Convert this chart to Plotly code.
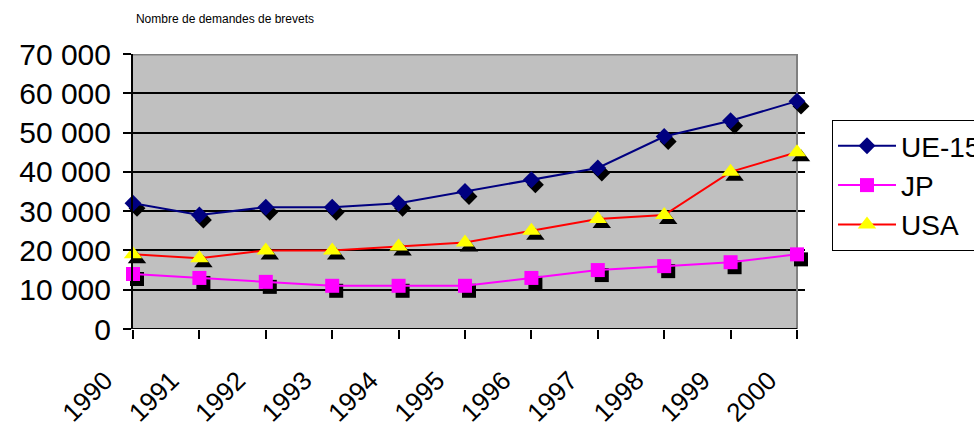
import plotly.graph_objects as go

years = [1990, 1991, 1992, 1993, 1994, 1995, 1996, 1997, 1998, 1999, 2000]
ue15 = [32000, 29000, 31000, 31000, 32000, 35000, 38000, 41000, 49000, 53000, 58000]
jp = [14000, 13000, 12000, 11000, 11000, 11000, 13000, 15000, 16000, 17000, 19000]
usa = [19000, 18000, 20000, 20000, 21000, 22000, 25000, 28000, 29000, 40000, 45000]
tick_years = [str(y) for y in years]

FONT = "Liberation Sans, Arial, sans-serif"
W, H = 974, 428
SX, SY = 4, 5      # shadow offset (px)
E = 8              # extra px of x-range beyond 2000 so shadows stay visible
L, T, B = 133, 54, 99
base_w = 664       # px from 1990 to 2000
R = W - L - base_w - E
ph = H - T - B
pw = base_w + E
u = (years[-1] - years[0]) / base_w   # data units per px (x)
v = 70000 / ph                        # data units per px (y)
xr = [years[0], years[-1] + E * u]
yr = [0, 70000]

series = [
    ("UE-15", ue15, "#000080", "diamond", 13, "#000080"),
    ("JP", jp, "#FF00FF", "square", 14, "#FF00FF"),
    ("USA", usa, "#FF0000", "triangle-up", 16, "#FFFF00"),
]

fig = go.Figure()
# shadows (overlay 1)
for name, vals, lc, sym, sz, mc in series:
    fig.add_trace(go.Scatter(x=years, y=vals, mode="markers", xaxis="x2", yaxis="y2",
                             marker=dict(symbol=sym, size=sz, color="black", line=dict(width=0)),
                             showlegend=False, hoverinfo="skip", cliponaxis=False))
# main series (overlay 2, on top)
for name, vals, lc, sym, sz, mc in series:
    fig.add_trace(go.Scatter(x=years, y=vals, mode="lines+markers", name=name,
                             xaxis="x3", yaxis="y3",
                             line=dict(color=lc, width=2),
                             marker=dict(symbol=sym, size=sz, color=mc, line=dict(width=0)),
                             cliponaxis=False, legendgroup=name))

fig.update_layout(
    width=W, height=H, autosize=False,
    margin=dict(l=L, r=R, t=T, b=B, autoexpand=False),
    paper_bgcolor="white", plot_bgcolor="#C0C0C0",
    separators=", ",
    font=dict(family=FONT, color="black"),
    title=dict(text="Nombre de demandes de brevets", x=225 / W, xanchor="center",
               y=1 - 19 / H, yanchor="middle", font=dict(size=12, family=FONT, color="black")),
    xaxis=dict(range=xr, tickvals=years, ticktext=tick_years, tickangle=-45,
               tickfont=dict(size=26, family=FONT), showgrid=False, zeroline=False,
               showline=False, automargin=False,
               ticks="outside", ticklen=9, tickwidth=2, tickcolor="black",
               ticklabelshift=-28, ticklabelstandoff=16),
    yaxis=dict(range=yr, dtick=10000, tickformat=",d",
               tickfont=dict(size=30, family=FONT), automargin=False,
               showgrid=True, gridcolor="black", gridwidth=2, zeroline=False,
               showline=True, linecolor="black", linewidth=2,
               ticks="outside", ticklen=8, tickwidth=2, tickcolor="black",
               ticklabelstandoff=6),
    xaxis2=dict(range=[xr[0] - SX * u, xr[1] - SX * u], overlaying="x", visible=False),
    yaxis2=dict(range=[yr[0] + SY * v, yr[1] + SY * v], overlaying="y", visible=False),
    xaxis3=dict(range=xr, overlaying="x", visible=False),
    yaxis3=dict(range=yr, overlaying="y", visible=False),
    legend=dict(x=(832 - L) / pw, y=(H - B - 120) / ph, xanchor="left", yanchor="top",
                bgcolor="white", bordercolor="black", borderwidth=1, itemwidth=58,
                font=dict(size=28, family=FONT), traceorder="grouped", tracegroupgap=0),
    showlegend=True,
    shapes=[
        # blank out the extra strip right of 2000
        dict(type="rect", xref="x", yref="paper", x0=years[-1], x1=xr[1], y0=-0.01, y1=1.01,
             fillcolor="white", line=dict(width=0), layer="between"),
        dict(type="line", xref="x", yref="y", x0=years[-1], x1=years[-1], y0=0, y1=70000,
             line=dict(color="#808080", width=2), layer="between"),
        dict(type="line", xref="x", yref="y", x0=years[0], x1=years[-1], y0=70000, y1=70000,
             line=dict(color="#808080", width=3), layer="between"),
        dict(type="line", xref="x", yref="y", x0=years[0], x1=years[-1], y0=0, y1=0,
             line=dict(color="black", width=2), layer="between"),
    ],
)

fig.write_html("out.html")
